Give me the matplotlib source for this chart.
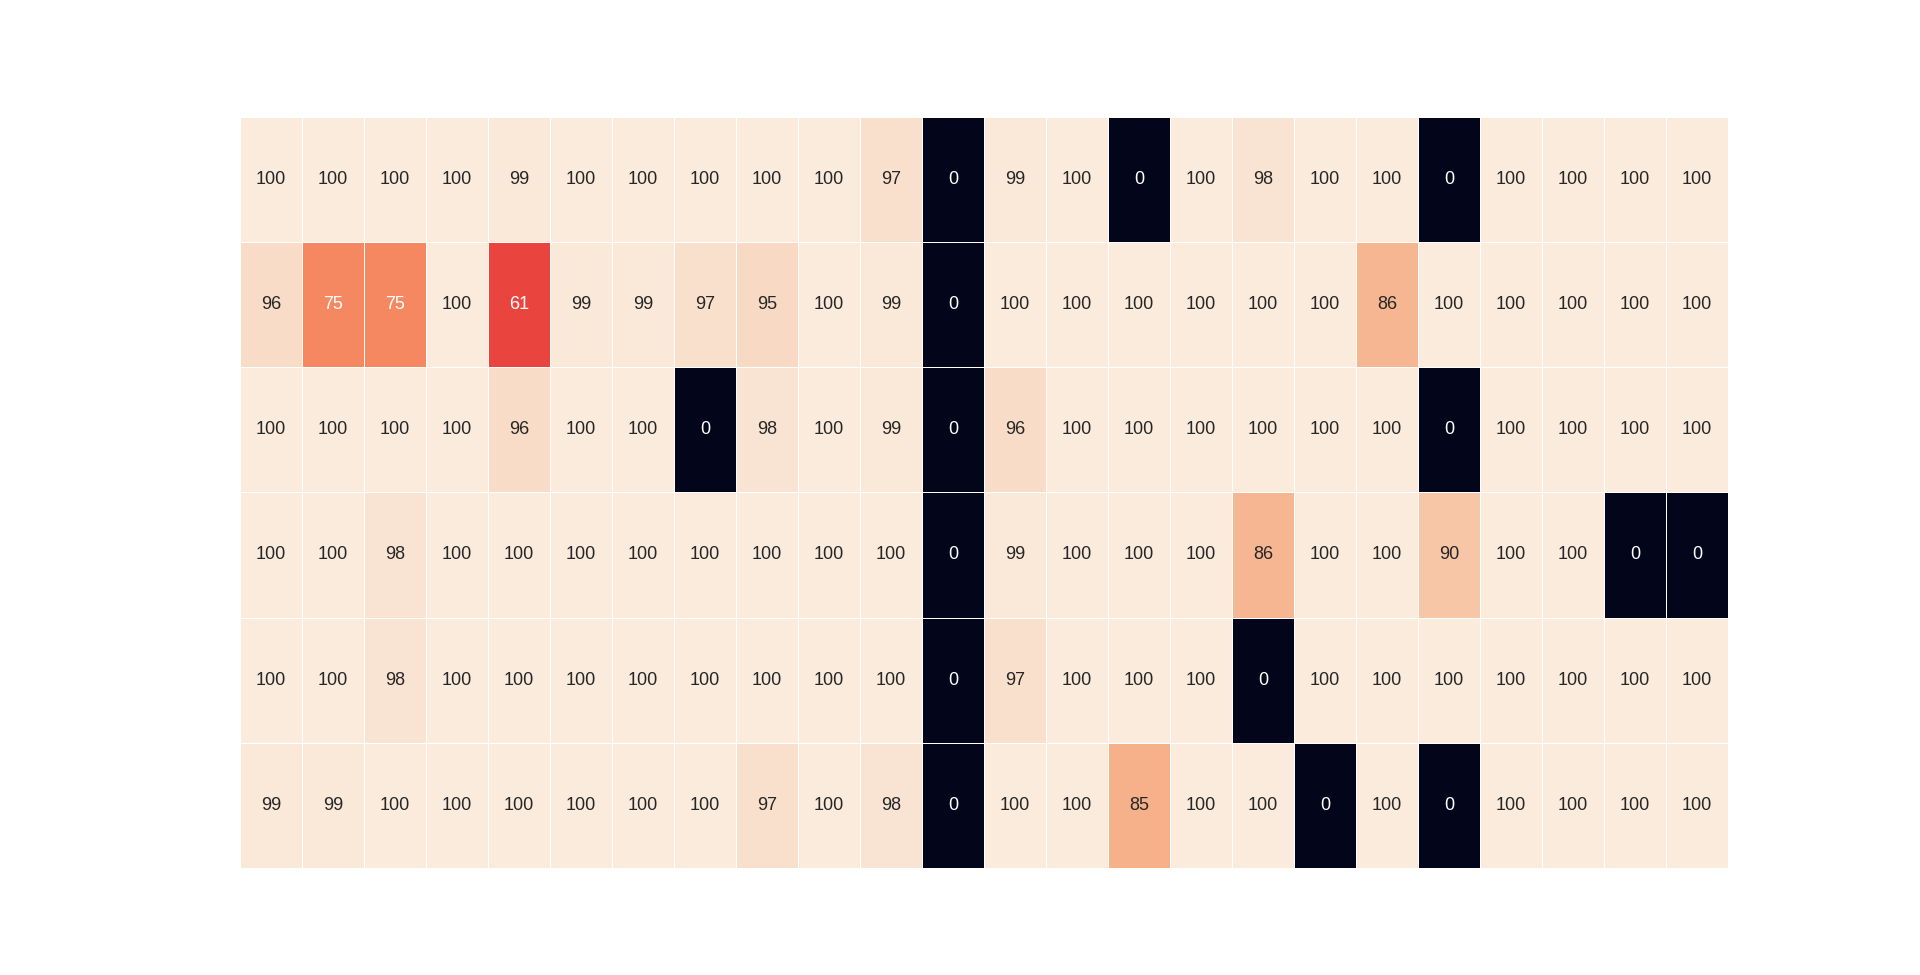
import numpy as np
import matplotlib
matplotlib.use("Agg")
import matplotlib.pyplot as plt
import seaborn as sns

# one list per row of the grid (6 rows x 24 columns)
row_1 = [100, 100, 100, 100, 99, 100, 100, 100, 100, 100, 97, 0,
         99, 100, 0, 100, 98, 100, 100, 0, 100, 100, 100, 100]
row_2 = [96, 75, 75, 100, 61, 99, 99, 97, 95, 100, 99, 0,
         100, 100, 100, 100, 100, 100, 86, 100, 100, 100, 100, 100]
row_3 = [100, 100, 100, 100, 96, 100, 100, 0, 98, 100, 99, 0,
         96, 100, 100, 100, 100, 100, 100, 0, 100, 100, 100, 100]
row_4 = [100, 100, 98, 100, 100, 100, 100, 100, 100, 100, 100, 0,
         99, 100, 100, 100, 86, 100, 100, 90, 100, 100, 0, 0]
row_5 = [100, 100, 98, 100, 100, 100, 100, 100, 100, 100, 100, 0,
         97, 100, 100, 100, 0, 100, 100, 100, 100, 100, 100, 100]
row_6 = [99, 99, 100, 100, 100, 100, 100, 100, 97, 100, 98, 0,
         100, 100, 85, 100, 100, 0, 100, 0, 100, 100, 100, 100]

data = np.array([row_1, row_2, row_3, row_4, row_5, row_6])

sns.set_theme(style="white")
plt.rcParams['font.family'] = ['Liberation Sans Narrow', 'Liberation Sans', 'DejaVu Sans']

fig, ax = plt.subplots(figsize=(19.2, 9.75), dpi=100)
sns.heatmap(data, annot=True, fmt="d", cmap="rocket", vmin=0, vmax=100,
            linewidths=0.5, linecolor="white", cbar=False,
            xticklabels=False, yticklabels=False,
            annot_kws={"size": 13}, ax=ax)

fig.savefig("out.png", dpi=100)
